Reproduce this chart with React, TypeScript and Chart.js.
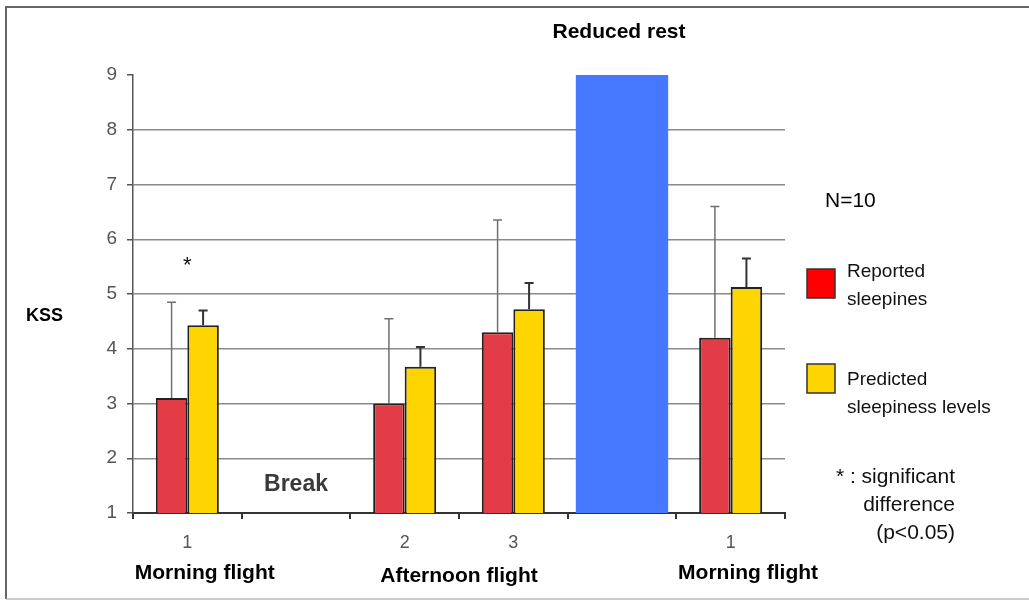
import React, { useEffect, useRef } from "react";
import { Chart, registerables } from "chart.js";

Chart.register(...registerables);

const categories = ["1", "", "2", "3", "", "1"];
const reportedSleepiness = [3.1, null, 3.0, 4.3, null, 4.2];
const predictedSleepiness = [4.43, null, 3.67, 4.72, null, 5.13];
const reportedUpper = [4.85, null, 4.55, 6.35, null, 6.6];
const predictedUpper = [4.7, null, 4.03, 5.2, null, 5.65];
const reducedRest = [null, null, null, null, 9, null];
const groupLabels = ["Morning flight", "Afternoon flight", "Morning flight"];
const groupPositions = [0.16, 2.5, 5.16];

const FONT = "'Liberation Sans', Arial, sans-serif";

const errorBarPlugin = {
  id: "errorBars",
  afterDatasetsDraw(chart: any) {
    const ctx = chart.ctx;
    const yScale = chart.scales.y;
    const uppers = [reportedUpper, predictedUpper];
    const styles = [
      { color: "#707070", width: 1.5 },
      { color: "#333", width: 2 },
    ];
    ctx.save();
    [0, 1].forEach((di) => {
      const meta = chart.getDatasetMeta(di);
      ctx.strokeStyle = styles[di].color;
      ctx.lineWidth = styles[di].width;
      meta.data.forEach((el: any, i: number) => {
        const up = uppers[di][i];
        if (up == null || chart.data.datasets[di].data[i] == null) return;
        const yTop = yScale.getPixelForValue(up);
        ctx.beginPath();
        ctx.moveTo(el.x, el.y);
        ctx.lineTo(el.x, yTop);
        ctx.moveTo(el.x - 4.5, yTop);
        ctx.lineTo(el.x + 4.5, yTop);
        ctx.stroke();
      });
    });
    ctx.restore();
  },
};

const annotationPlugin = {
  id: "annotations",
  afterDraw(chart: any) {
    const ctx = chart.ctx;
    const xScale = chart.scales.x;
    ctx.save();
    // outer frame (top, left, bottom)
    ctx.strokeStyle = "#666";
    ctx.lineWidth = 2;
    ctx.beginPath();
    ctx.moveTo(1029, 7);
    ctx.lineTo(6, 7);
    ctx.lineTo(6, 599);
    ctx.stroke();
    ctx.strokeStyle = "#bbb";
    ctx.lineWidth = 1.5;
    ctx.beginPath();
    ctx.moveTo(6, 599);
    ctx.lineTo(1029, 599);
    ctx.stroke();

    ctx.textBaseline = "middle";
    ctx.fillStyle = "#000";
    ctx.textAlign = "center";
    ctx.font = `bold 21px ${FONT}`;
    ctx.fillText("Reduced rest", 619, 32);

    ctx.textAlign = "left";
    ctx.font = `bold 18px ${FONT}`;
    ctx.fillText("KSS", 26, 316);

    ctx.fillStyle = "#3a3a3a";
    ctx.textAlign = "center";
    ctx.font = `bold 23px ${FONT}`;
    ctx.fillText("Break", 296, 485);

    ctx.fillStyle = "#111";
    ctx.font = `22px ${FONT}`;
    ctx.fillText("*", xScale.getPixelForValue(0), 266);

    // group labels
    ctx.fillStyle = "#000";
    ctx.font = `bold 21px ${FONT}`;
    groupLabels.forEach((lab, i) => {
      ctx.fillText(lab, xScale.getPixelForValue(groupPositions[i]), i === 1 ? 576 : 573);
    });

    // N=10
    ctx.textAlign = "left";
    ctx.font = `21px ${FONT}`;
    ctx.fillText("N=10", 825, 201);

    // legend
    ctx.lineWidth = 1.5;
    ctx.strokeStyle = "#333";
    ctx.fillStyle = "#FF0000";
    ctx.fillRect(807, 269, 28, 29);
    ctx.strokeRect(807, 269, 28, 29);
    ctx.fillStyle = "#FFD500";
    ctx.fillRect(807, 364, 28, 29);
    ctx.strokeRect(807, 364, 28, 29);

    ctx.fillStyle = "#111";
    ctx.font = `19px ${FONT}`;
    ctx.fillText("Reported", 847, 272);
    ctx.fillText("sleepines", 847, 300);
    ctx.fillText("Predicted", 847, 380);
    ctx.fillText("sleepiness levels", 847, 408);

    ctx.textAlign = "right";
    ctx.font = `21px ${FONT}`;
    ctx.fillText("* : significant", 955, 477);
    ctx.fillText("difference", 955, 505);
    ctx.fillText("(p<0.05)", 955, 533);
    ctx.restore();
  },
};

export default function App() {
  const canvasRef = useRef<HTMLCanvasElement | null>(null);

  useEffect(() => {
    if (!canvasRef.current) return;
    const chart = new Chart(canvasRef.current, {
      type: "bar",
      data: {
        labels: categories,
        datasets: [
          {
            label: "Reported sleepines",
            data: reportedSleepiness,
            backgroundColor: "#E23D47",
            borderColor: "#222",
            borderWidth: 2,
            categoryPercentage: 0.58,
            barPercentage: 1,
          },
          {
            label: "Predicted sleepiness levels",
            data: predictedSleepiness,
            backgroundColor: "#FFD500",
            borderColor: "#222",
            borderWidth: 2,
            categoryPercentage: 0.58,
            barPercentage: 1,
          },
          {
            label: "Reduced rest",
            data: reducedRest,
            backgroundColor: "#4678FF",
            borderWidth: 0,
            grouped: false,
            categoryPercentage: 0.85,
            barPercentage: 1,
          },
        ],
      } as any,
      options: {
        animation: false,
        responsive: false,
        maintainAspectRatio: false,
        layout: { padding: { left: 93, right: 244, top: 75, bottom: 0 } },
        plugins: {
          legend: { display: false },
          tooltip: { enabled: false },
          title: { display: false },
        },
        scales: {
          x: {
            afterFit: (s: any) => {
              s.height = 88;
            },
            grid: {
              display: true,
              drawOnChartArea: false,
              offset: true,
              tickLength: 6,
              tickColor: "#333",
              lineWidth: 2,
            },
            border: { color: "#333", width: 2 },
            ticks: {
              color: "#555",
              font: { size: 18, family: FONT },
              padding: 13,
              maxRotation: 0,
              autoSkip: false,
            },
          },
          y: {
            min: 1,
            max: 9,
            afterFit: (s: any) => {
              s.width = 40;
            },
            grid: {
              color: (c: any) =>
                c.tick && (c.tick.value === 9 || c.tick.value === 1)
                  ? "rgba(0,0,0,0)"
                  : "#8a8a8a",
              lineWidth: 1.5,
              tickLength: 6,
              tickColor: "#555",
            },
            border: { color: "#555", width: 1.5 },
            ticks: {
              stepSize: 1,
              color: "#555",
              font: { size: 19, family: FONT },
              padding: 10,
            },
          },
        },
      } as any,
      plugins: [errorBarPlugin, annotationPlugin],
    });
    return () => chart.destroy();
  }, []);

  return (
    <div style={{ position: "absolute", left: 0, top: 0, width: 1029, height: 601, background: "#fff" }}>
      <canvas ref={canvasRef} width={1029} height={601} />
    </div>
  );
}
